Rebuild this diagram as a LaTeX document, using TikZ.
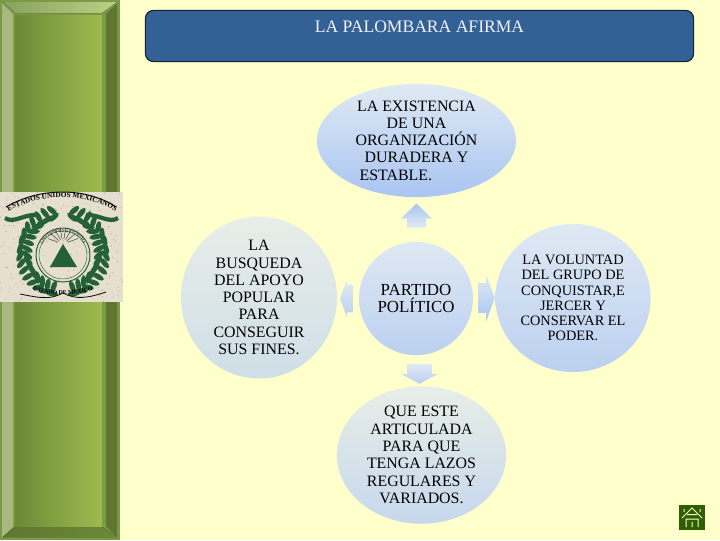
\documentclass[tikz,border=0pt]{standalone}
\usepackage{fontspec}
\setmainfont{Liberation Serif}
\usepackage{tikz}
\usetikzlibrary{calc,positioning,shapes.geometric,shapes.arrows,decorations.text}
\definecolor{paper}{HTML}{FFFFCC}
\definecolor{titleblue}{HTML}{336195}
\definecolor{titleline}{HTML}{15233A}
\definecolor{oliveedge}{HTML}{7B9A45}
\definecolor{olivedark}{HTML}{6B8A36}
\definecolor{olivelight}{HTML}{9CBC50}
\definecolor{bevellight}{HTML}{A8B880}
\definecolor{beveldark}{HTML}{5E7632}
\definecolor{crest}{HTML}{24613A}
\definecolor{crestpaper}{HTML}{E6DECE}
\definecolor{homegreen}{HTML}{2F5E00}
\definecolor{palesky}{HTML}{DFE9F3}
\definecolor{palegrey}{HTML}{E8EEE8}
\definecolor{midsky}{HTML}{BBD0F0}
\definecolor{deepsky}{HTML}{A9C5F2}
\definecolor{greysky}{HTML}{CFDEE7}
\definecolor{softsky}{HTML}{C6D8EC}
\tikzset{bubble/.style={ellipse,inner sep=0pt,align=center,text=black,font=\fontsize{11.3}{12.3}\selectfont},smalltext/.style={font=\fontsize{10.2}{10.8}\selectfont},blockarrow/.style 2 args={single arrow,inner sep=0pt,text depth=0pt,top color=#1,bottom color=#2},leaf/.style={fill=crest,ellipse,inner sep=0pt,minimum width=.32cm,minimum height=.13cm},bandtext/.style={decorate,decoration={text along path,text align=center,text color=black,text={#1}}}}
\begin{document}
\begin{tikzpicture}[x=.025cm,y=-.025cm]
\fill[paper] (0,0) rectangle (720,540);
\path[use as bounding box] (0,0) rectangle (720,540);
\fill[oliveedge] (0,0) rectangle (120,540);
\fill[left color=olivedark,right color=olivelight] (15,15) rectangle (102,526);
\fill[bevellight] (2,3)--(13,14)--(13,527)--(2,537)--cycle;
\fill[left color=olivedark!80!white,right color=olivelight!70!white] (3,2)--(117,2)--(102,13)--(15,13)--cycle;
\fill[beveldark] (117,3)--(117,537)--(106,526)--(106,14)--cycle;
\fill[left color=beveldark,right color=olivedark] (3,537)--(117,537)--(102,527)--(15,527)--cycle;
\node[draw=titleline,line width=.8pt,fill=titleblue,rounded corners=.2cm,minimum width=13.7cm,minimum height=1.28cm] (titlebox) at (419.5,36) {};
\node[text=white!92!titleblue,font=\fontsize{12.5}{14}\selectfont] (titletext) at (419.5,27) {LA PALOMBARA AFIRMA};
\fill[crestpaper] (0,192) rectangle (123,302);
\pgfmathsetseed{7}
\foreach \k in {1,...,220}{
\fill[black!30!crestpaper] ({rnd*123},{192+rnd*110}) circle[radius=.5];}
\draw[crest,line width=.7pt] (63,255) circle[radius=27];
\draw[crest,line width=.3pt] (63,255) circle[radius=24];
\fill[crest] (63,244)--(77,267)--(50,267)--cycle;
\foreach \a in {200,220,...,340}{
\draw[black!65!crest,line width=.25pt] ($(63,244)+(\a:5)$)--($(63,244)+(\a:16)$);}
\foreach \a in {105,115,...,255}{
\node[leaf,rotate={\a+65}] at ($(63,252)+(\a:43)$) {};
\node[leaf,rotate={\a-35}] at ($(63,252)+(\a:36)$) {};}
\foreach \a in {-75,-65,...,75}{
\node[leaf,rotate={\a-65}] at ($(63,252)+(\a:43)$) {};
\node[leaf,rotate={\a+35}] at ($(63,252)+(\a:36)$) {};}
\draw[crest,line width=3pt] (5,218) .. controls (13,224) and (25,214) .. (36,215);
\draw[crest,line width=3pt] (118,218) .. controls (110,224) and (98,214) .. (86,215);
\draw[black!75!crest,line width=.7pt] (6,207) .. controls (40,187) and (86,187) .. (116,207);
\draw[black!75!crest,line width=.6pt] (20,294) .. controls (40,298) and (50,300) .. (63,293) .. controls (76,300) and (88,298) .. (106,292);
\path[bandtext={|\fontsize{5.2}{6}\selectfont\bfseries|ESTADOS UNIDOS MEXICANOS}] (6,213) .. controls (38,192) and (88,192) .. (118,213);
\path[bandtext={|\fontsize{2.8}{3}\selectfont|UNIVERSIDAD AUTONOMA}] (43,244) .. controls (48,228) and (78,228) .. (83,244);
\path[bandtext={|\fontsize{4.2}{5}\selectfont\bfseries|ESTADO DE MEXICO}] (22,287) .. controls (45,297) and (80,297) .. (104,286);
\node[bubble,minimum width=4.98cm,minimum height=2.83cm,top color=palesky,bottom color=deepsky] (existencia) at (416.5,140.5) {LA EXISTENCIA\\DE UNA\\ORGANIZACIÓN\\DURADERA Y\\ESTABLE.\hspace*{2.6em}};
\node[bubble,minimum width=3.9cm,minimum height=3.72cm,top color=palegrey,bottom color=greysky] (apoyo) at (259,297.5) {LA\\BUSQUEDA\\DEL APOYO\\POPULAR\\PARA\\CONSEGUIR\\SUS FINES.};
\node[bubble,font=\fontsize{12}{12.3}\selectfont,minimum width=2.85cm,minimum height=2.83cm,top color=palesky,bottom color=midsky] (partido) at (416,298.5) {PARTIDO\\POLÍTICO};
\node[bubble,smalltext,minimum width=3.88cm,minimum height=3.7cm,top color=palesky,bottom color=midsky] (voluntad) at (573,298) {LA VOLUNTAD\\DEL GRUPO DE\\CONQUISTAR,E\\JERCER Y\\CONSERVAR EL\\PODER.};
\node[bubble,minimum width=4.23cm,minimum height=3.4cm,top color=palegrey,bottom color=softsky] (articulada) at (421.5,455) {QUE ESTE\\ARTICULADA\\PARA QUE\\TENGA LAZOS\\REGULARES Y\\VARIADOS.};
\node[blockarrow={deepsky}{palesky},shape border rotate=90,text width=.45cm,minimum height=.6cm,single arrow head extend=.16cm,single arrow tip angle=92] (arrowup) at (416.5,220) {};
\node[blockarrow={palesky}{midsky},shape border rotate=180,text height=.68cm,minimum height=.32cm,single arrow head extend=.12cm,single arrow tip angle=140] (arrowleft) at (349,298.5) {};
\node[blockarrow={palesky}{deepsky},text height=.73cm,minimum height=.4cm,single arrow head extend=.21cm,single arrow tip angle=140] (arrowright) at (484,298) {};
\node[blockarrow={palesky}{midsky},shape border rotate=270,text width=.6cm,minimum height=.5cm,single arrow head extend=.16cm,single arrow tip angle=124] (arrowdown) at (419.5,370.5) {};
\fill[homegreen] (679,505) rectangle (705,530);
\draw[paper,line width=.7pt] (682,518)--(692,508)--(702,518) (684,509)--(684,512) (700,509)--(700,512) (686,527)--(686,519)--(698,519)--(698,527) (692,522)--(692,527) (687,514.5)--(697,514.5);
\end{tikzpicture}
\end{document}
